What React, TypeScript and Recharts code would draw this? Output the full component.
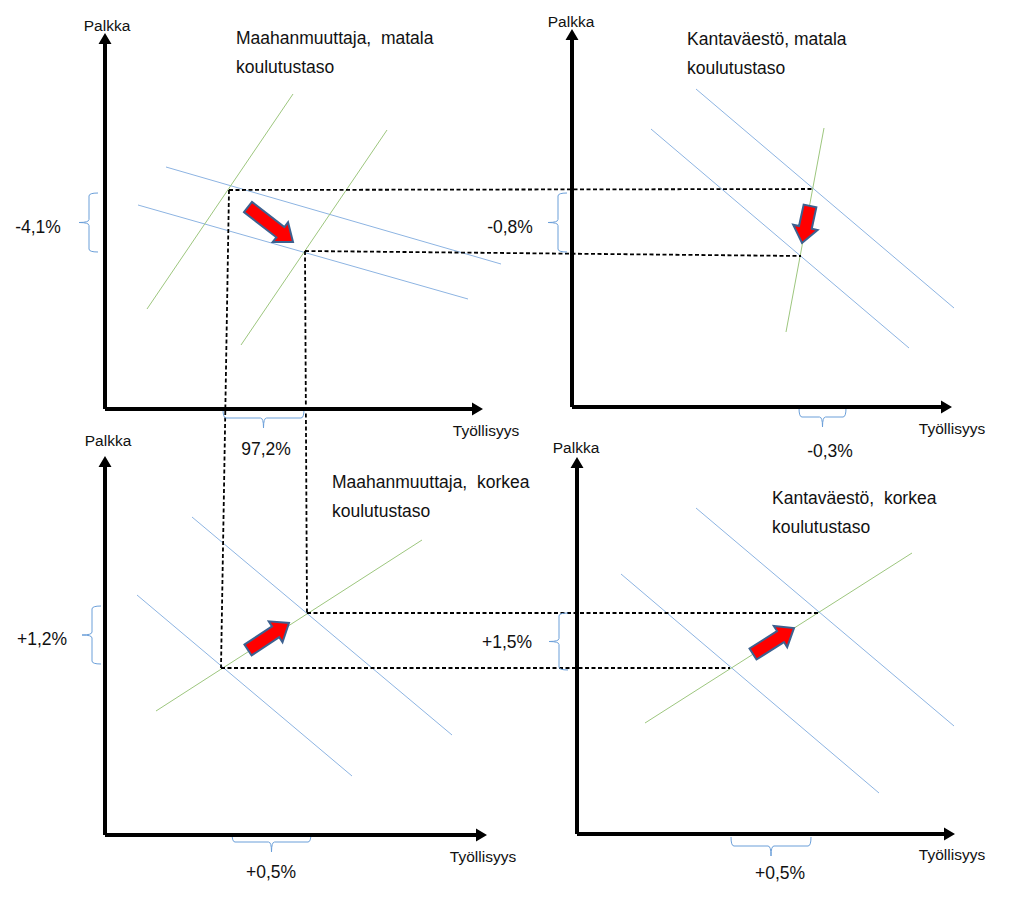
import { ComposedChart, XAxis, YAxis, ReferenceLine, Scatter } from 'recharts';

type Seg = { x1: number; y1: number; x2: number; y2: number };
type Label = { x: number; y: number; text: string };

// diagram units: x to the right, y downwards (0..1024 x 0..900)
const axisLines: Seg[] = [
  { x1: 105, y1: 409, x2: 105, y2: 33 },
  { x1: 105, y1: 409, x2: 483, y2: 409 },
  { x1: 572, y1: 407, x2: 572, y2: 29 },
  { x1: 572, y1: 407, x2: 952, y2: 407 },
  { x1: 105, y1: 835, x2: 105, y2: 456 },
  { x1: 105, y1: 835, x2: 487, y2: 835 },
  { x1: 577, y1: 834, x2: 577, y2: 457 },
  { x1: 577, y1: 834, x2: 955, y2: 834 },
];

// kysyntä (blue)
const demandLines: Seg[] = [
  { x1: 166, y1: 167, x2: 501, y2: 264 },
  { x1: 138, y1: 205, x2: 468, y2: 299 },
  { x1: 696, y1: 89, x2: 954, y2: 308 },
  { x1: 651, y1: 129, x2: 909, y2: 348 },
  { x1: 192, y1: 517, x2: 452, y2: 735 },
  { x1: 137, y1: 595, x2: 352, y2: 776 },
  { x1: 696, y1: 508, x2: 954, y2: 726 },
  { x1: 621, y1: 574, x2: 879, y2: 793 },
];

// tarjonta (green)
const supplyLines: Seg[] = [
  { x1: 293, y1: 94, x2: 147, y2: 309 },
  { x1: 387, y1: 130, x2: 241, y2: 345 },
  { x1: 824, y1: 128, x2: 786, y2: 332 },
  { x1: 156, y1: 711, x2: 422, y2: 540 },
  { x1: 645, y1: 723, x2: 912, y2: 553 },
];

const guideLines: Seg[] = [
  { x1: 229, y1: 190, x2: 812, y2: 189 },
  { x1: 305, y1: 251, x2: 801, y2: 256 },
  { x1: 229, y1: 190, x2: 221, y2: 668 },
  { x1: 305, y1: 251, x2: 307, y2: 613 },
  { x1: 307, y1: 613, x2: 819, y2: 613 },
  { x1: 221, y1: 668, x2: 730, y2: 668 },
];

const shiftArrows: Seg[] = [
  { x1: 248, y1: 207, x2: 293, y2: 242 },
  { x1: 810, y1: 206, x2: 802, y2: 243 },
  { x1: 248, y1: 650, x2: 289, y2: 623 },
  { x1: 753, y1: 654, x2: 794, y2: 628 },
];

const braces: Seg[] = [
  { x1: 89, y1: 193, x2: 89, y2: 252 },
  { x1: 558, y1: 193, x2: 558, y2: 252 },
  { x1: 92, y1: 606, x2: 92, y2: 664 },
  { x1: 559, y1: 613, x2: 559, y2: 670 },
  { x1: 223, y1: 418, x2: 304, y2: 418 },
  { x1: 799, y1: 417, x2: 846, y2: 417 },
  { x1: 232, y1: 842, x2: 311, y2: 842 },
  { x1: 731, y1: 846, x2: 811, y2: 846 },
];

const axisNames: Label[] = [
  { x: 107, y: 25, text: 'Palkka' },
  { x: 571, y: 21, text: 'Palkka' },
  { x: 108, y: 440, text: 'Palkka' },
  { x: 576, y: 447, text: 'Palkka' },
  { x: 486, y: 430, text: 'Työllisyys' },
  { x: 952, y: 428, text: 'Työllisyys' },
  { x: 483, y: 856, text: 'Työllisyys' },
  { x: 952, y: 854, text: 'Työllisyys' },
];

const panelTitles: Label[] = [
  { x: 236, y: 38, text: 'Maahanmuuttaja,  matala\nkoulutustaso' },
  { x: 687, y: 39, text: 'Kantaväestö, matala\nkoulutustaso' },
  { x: 332, y: 482, text: 'Maahanmuuttaja,  korkea\nkoulutustaso' },
  { x: 772, y: 498, text: 'Kantaväestö,  korkea\nkoulutustaso' },
];

const changeLabels: Label[] = [
  { x: 38, y: 227, text: '-4,1%' },
  { x: 510, y: 227, text: '-0,8%' },
  { x: 266, y: 449, text: '97,2%' },
  { x: 830, y: 451, text: '-0,3%' },
  { x: 42, y: 639, text: '+1,2%' },
  { x: 507, y: 642, text: '+1,5%' },
  { x: 271, y: 872, text: '+0,5%' },
  { x: 780, y: 873, text: '+0,5%' },
];

const FONT = "'Liberation Sans', Arial, sans-serif";

const blockArrow = (shaft: number, head: number, headLen: number) => (props: any) => {
  const { x1, y1, x2, y2, fill, stroke, strokeWidth } = props;
  const dx = x2 - x1;
  const dy = y2 - y1;
  const len = Math.sqrt(dx * dx + dy * dy) || 1;
  const ux = dx / len;
  const uy = dy / len;
  const nx = -uy;
  const ny = ux;
  const bx = x2 - ux * headLen;
  const by = y2 - uy * headLen;
  const pts = [
    [x1 + (nx * shaft) / 2, y1 + (ny * shaft) / 2],
    [bx + (nx * shaft) / 2, by + (ny * shaft) / 2],
    [bx + (nx * head) / 2, by + (ny * head) / 2],
    [x2, y2],
    [bx - (nx * head) / 2, by - (ny * head) / 2],
    [bx - (nx * shaft) / 2, by - (ny * shaft) / 2],
    [x1 - (nx * shaft) / 2, y1 - (ny * shaft) / 2],
  ];
  return (
    <polygon
      points={pts.map((p) => p.join(',')).join(' ')}
      fill={fill}
      stroke={stroke}
      strokeWidth={strokeWidth}
      strokeLinejoin="miter"
    />
  );
};

const braceShape = (props: any) => {
  const { x1, y1, x2, y2, stroke } = props;
  const hook = 9;
  const tick = 10;
  let d = '';
  if (Math.abs(x2 - x1) < Math.abs(y2 - y1)) {
    const x = x1;
    const ya = Math.min(y1, y2);
    const yb = Math.max(y1, y2);
    const ym = (ya + yb) / 2;
    d = `M${x + hook},${ya} Q${x},${ya} ${x},${ya + 3} L${x},${ym - 3} Q${x},${ym} ${x - tick},${ym} Q${x},${ym} ${x},${ym + 3} L${x},${yb - 3} Q${x},${yb} ${x + hook},${yb}`;
  } else {
    const y = y1;
    const xa = Math.min(x1, x2);
    const xb = Math.max(x1, x2);
    const xm = (xa + xb) / 2;
    d = `M${xa},${y - hook} Q${xa},${y} ${xa + 3},${y} L${xm - 3},${y} Q${xm},${y} ${xm},${y + tick} Q${xm},${y} ${xm + 3},${y} L${xb - 3},${y} Q${xb},${y} ${xb},${y - hook}`;
  }
  return <path d={d} fill="none" stroke={stroke} strokeWidth={1} />;
};

const textShape = (size: number, anchor: 'start' | 'middle') => (props: any) => {
  const { cx, cy, payload } = props;
  const lines = String(payload.text).split('\n');
  return (
    <text
      x={cx}
      y={cy}
      fontSize={size}
      fontFamily={FONT}
      textAnchor={anchor}
      dominantBaseline="central"
      fill="#111"
      style={{ whiteSpace: 'pre' }}
    >
      {lines.map((line, i) => (
        <tspan key={i} x={cx} dy={i === 0 ? 0 : size * 1.65}>
          {line}
        </tspan>
      ))}
    </text>
  );
};

const seg = (s: Seg) => [
  { x: s.x1, y: s.y1 },
  { x: s.x2, y: s.y2 },
];

export default function App() {
  return (
    <div style={{ position: 'absolute', left: 0, top: 0, width: 1024, height: 900, background: '#fff' }}>
      <ComposedChart width={1024} height={900} margin={{ top: 0, right: 0, bottom: 0, left: 0 }}>
        <XAxis type="number" dataKey="x" domain={[0, 1024]} hide allowDataOverflow />
        <YAxis type="number" dataKey="y" domain={[0, 900]} reversed hide allowDataOverflow />

        {demandLines.map((s, i) => (
          <ReferenceLine key={`d${i}`} segment={seg(s)} stroke="#8db4e2" strokeWidth={1} />
        ))}
        {supplyLines.map((s, i) => (
          <ReferenceLine key={`s${i}`} segment={seg(s)} stroke="#9dc67e" strokeWidth={1} />
        ))}
        {guideLines.map((s, i) => (
          <ReferenceLine
            key={`g${i}`}
            segment={seg(s)}
            stroke="#000"
            strokeWidth={1.8}
            strokeDasharray="4 2.5"
          />
        ))}
        {braces.map((s, i) => (
          <ReferenceLine key={`b${i}`} segment={seg(s)} stroke="#6b9fd9" shape={braceShape} />
        ))}
        {axisLines.map((s, i) => (
          <ReferenceLine
            key={`a${i}`}
            segment={seg(s)}
            fill="#000"
            stroke="none"
            shape={blockArrow(4, 13, 11)}
          />
        ))}
        {shiftArrows.map((s, i) => (
          <ReferenceLine
            key={`r${i}`}
            segment={seg(s)}
            fill="#ff0000"
            stroke="#3c6190"
            strokeWidth={2}
            shape={blockArrow(13, 25, 16)}
          />
        ))}

        <Scatter data={axisNames} dataKey="y" shape={textShape(15.5, 'middle')} isAnimationActive={false} />
        <Scatter data={panelTitles} dataKey="y" shape={textShape(17.5, 'start')} isAnimationActive={false} />
        <Scatter data={changeLabels} dataKey="y" shape={textShape(17.5, 'middle')} isAnimationActive={false} />
      </ComposedChart>
    </div>
  );
}
